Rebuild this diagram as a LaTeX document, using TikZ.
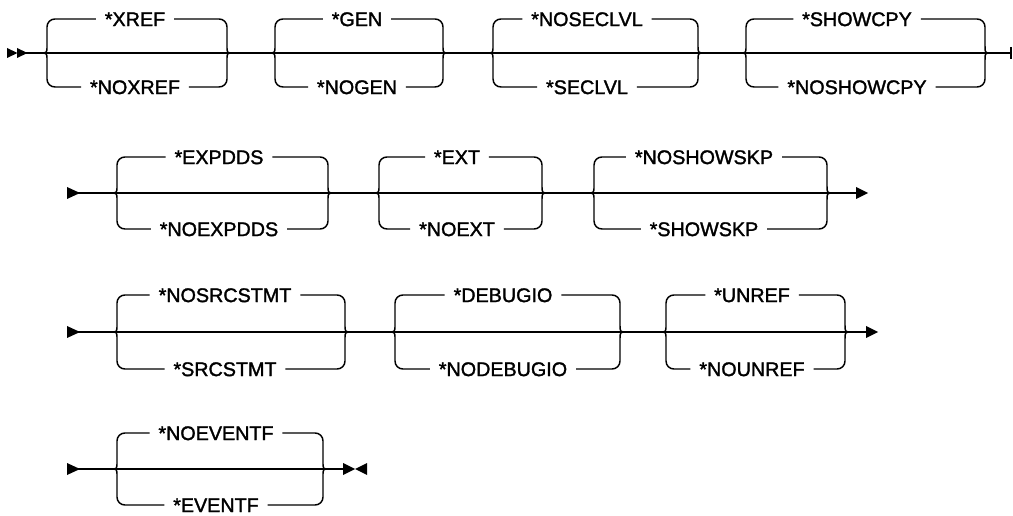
\documentclass[tikz,border=0pt]{standalone}
\usepackage{fontspec}
\setmainfont[FakeBold=1.6]{Liberation Sans}
\usetikzlibrary{positioning}

\begin{document}
\begin{tikzpicture}[
    x=0.75pt, y=-0.75pt,
    rail/.style={line width=1.1pt, line join=round},
    opt/.style={font=\fontsize{14.8}{16}\selectfont, inner xsep=6.5pt, inner ysep=0pt, text height=10.6pt, text depth=0pt},
    head/.style={fill=black}
]
    \useasboundingbox (0,0) rectangle (1013,516);

    % main lines
    \coordinate (r1-in) at (17,53);  \coordinate (r1-out) at (1011,53);
    \coordinate (r2-in) at (70,193); \coordinate (r2-out) at (858,193);
    \coordinate (r3-in) at (70,332); \coordinate (r3-out) at (868,332);
    \coordinate (r4-in) at (70,469); \coordinate (r4-out) at (345,469);
    \foreach \r in {r1,r2,r3,r4}
        \draw[rail] (\r-in) -- (\r-out);

    \fill[head] (7,48) -- (17.5,53) -- (7,58) -- cycle;
    \fill[head] (17,48) -- (27.5,53) -- (17,58) -- cycle;
    \draw[rail] (1011,47) -- (1011,59);
    \foreach \yy in {193,332,469}
        \fill[head] (67,\yy-6) -- (80,\yy) -- (67,\yy+6) -- cycle;
    \fill[head] (856,187) -- (868,193) -- (856,199) -- cycle;
    \fill[head] (866,326) -- (878,332) -- (866,338) -- cycle;
    \fill[head] (343,463) -- (355,469) -- (343,475) -- cycle;
    \fill[head] (367,463) -- (355,469) -- (367,475) -- cycle;

    % option groups: name/y/offset/tip/left/right/tip/label x/upper/lower
    \foreach \n/\yy/\hh/\tl/\vl/\vr/\tr/\cx/\up/\dn in {
        xref/53/34/40/47/227/233/135/*XREF/*NOXREF,
        gen/53/34/268/275/443/449/357/*GEN/*NOGEN,
        seclvl/53/34/487/493/698/705/587/*NOSECLVL/*SECLVL,
        showcpy/53/34/740/746/985/991/857/*SHOWCPY/*NOSHOWCPY,
        expdds/193/36/110/117/328/335/219/*EXPDDS/*NOEXPDDS,
        ext/193/36/372/379/542/549/457/*EXT/*NOEXT,
        showskp/193/36/587/594/827/834/704/*NOSHOWSKP/*SHOWSKP,
        srcstmt/332/37/111/117/345/352/225/*NOSRCSTMT/*SRCSTMT,
        debugio/332/37/388/395/620/627/503/*DEBUGIO/*NODEBUGIO,
        unref/332/37/660/666/845/852/752/*UNREF/*NOUNREF,
        eventf/469/36/111/117/323/329/216/*NOEVENTF/*EVENTF}
    {
        \node[opt] (\n-up) at (\cx,\yy-\hh) {\up};
        \node[opt] (\n-dn) at (\cx,\yy+\hh) {\dn};
        \coordinate (\n-in) at (\tl,\yy);
        \coordinate (\n-out) at (\tr,\yy);
        \draw[rail] (\n-in) .. controls (\vl,\yy) .. (\vl,\yy-7) -- (\vl,\yy-\hh+8)
            .. controls (\vl,\yy-\hh+3.5) and (\vl+3.5,\yy-\hh) .. (\vl+8,\yy-\hh) -- (\n-up.west)
            (\n-up.east) -- (\vr-8,\yy-\hh) .. controls (\vr-3.5,\yy-\hh) and (\vr,\yy-\hh+3.5) .. (\vr,\yy-\hh+8)
            -- (\vr,\yy-7) .. controls (\vr,\yy) .. (\n-out);
        \draw[rail] (\n-in) .. controls (\vl,\yy) .. (\vl,\yy+7) -- (\vl,\yy+\hh-8)
            .. controls (\vl,\yy+\hh-3.5) and (\vl+3.5,\yy+\hh) .. (\vl+8,\yy+\hh) -- (\n-dn.west)
            (\n-dn.east) -- (\vr-8,\yy+\hh) .. controls (\vr-3.5,\yy+\hh) and (\vr,\yy+\hh-3.5) .. (\vr,\yy+\hh-8)
            -- (\vr,\yy+7) .. controls (\vr,\yy) .. (\n-out);
    }
\end{tikzpicture}
\end{document}
